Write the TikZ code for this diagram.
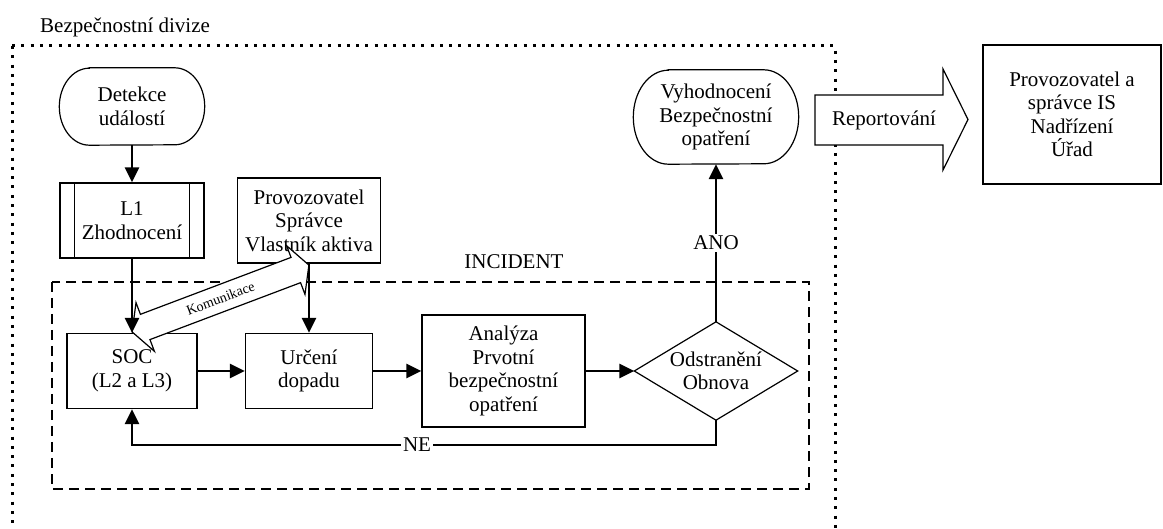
\documentclass[tikz,border=0pt]{standalone}
\usepackage{fontspec}
\setmainfont{Liberation Serif}
\usetikzlibrary{arrows.meta}
\begin{document}
\begin{tikzpicture}[x=1pt,y=-1pt,
  every node/.style={font=\fontsize{21}{23.5}\selectfont, align=center, inner sep=0pt},
  box/.style={draw, line width=1.2pt},
  outline/.style={line width=1.2pt},
  flow/.style={line width=2.6pt, -{Triangle[length=15pt,width=14pt]}},
  tag/.style={fill=white, inner sep=2pt},
]
\useasboundingbox (0,0) rectangle (1163,529);
\clip (0,0) rectangle (1163,529);

% security division frame (open towards the bottom)
\node[anchor=west] (divlabel) at (40,27) {Bezpečnostní divize};
\draw[line width=3pt, dash pattern=on 3pt off 6.3pt] (12,46) -- (12,545);
\draw[line width=3pt, dash pattern=on 3pt off 6.3pt] (12,46) -- (835,46) -- (835,545);

% incident frame
\draw[outline, dash pattern=on 10pt off 6pt] (52,282) rectangle (809,489);
\node (inclabel) at (514,262) {INCIDENT};

% nodes
\node[minimum width=145pt, minimum height=77pt] (det) at (132,106.5) {Detekce\\událostí};
\draw[outline] ([xshift=30pt]det.north west) -- ([xshift=-30pt]det.north east)
  arc[start angle=90, end angle=-90, x radius=30pt, y radius=38.5pt]
  -- ([xshift=30pt]det.south west)
  arc[start angle=270, end angle=90, x radius=30pt, y radius=38.5pt] -- cycle;

\node[box, minimum width=144pt, minimum height=75pt] (l1) at (132,220.5) {L1\\Zhodnocení};
\draw[outline] ([xshift=15pt]l1.north west) -- ([xshift=15pt]l1.south west);
\draw[outline] ([xshift=-15pt]l1.north east) -- ([xshift=-15pt]l1.south east);

\node[box, minimum width=143pt, minimum height=85pt] (prov) at (309,220.5) {Provozovatel\\Správce\\Vlastník aktiva};
\node[box, minimum width=130pt, minimum height=75pt] (soc) at (132,371) {SOC\\(L2 a L3)};
\node[box, minimum width=127pt, minimum height=75pt] (urc) at (309,371) {Určení\\dopadu};
\node[box, minimum width=163pt, minimum height=112pt] (ana) at (503.5,371) {Analýza\\Prvotní\\bezpečnostní\\opatření};

\node[minimum width=163pt, minimum height=98pt] (dia) at (716,371) {Odstranění\\Obnova};
\draw[outline] (dia.north) -- (dia.east) -- (dia.south) -- (dia.west) -- cycle;

\node[minimum width=165pt, minimum height=94pt] (vyh) at (716,117) {Vyhodnocení\\Bezpečnostní\\opatření};
\draw[outline] ([xshift=35pt]vyh.north west) -- ([xshift=-35pt]vyh.north east)
  arc[start angle=90, end angle=-90, x radius=35pt, y radius=47pt]
  -- ([xshift=35pt]vyh.south west)
  arc[start angle=270, end angle=90, x radius=35pt, y radius=47pt] -- cycle;

\node[box, minimum width=178pt, minimum height=139pt] (auth) at (1072,114.5) {Provozovatel a\\správce IS\\Nadřízení\\Úřad};

% reporting block arrow
\draw[outline, fill=white] (815,95) -- (943,95) -- (943,69) -- (968,119.5) -- (943,170)
  -- (943,145) -- (815,145) -- cycle;
\node (rep) at (884,120) {Reportování};

% communication double arrow
\begin{scope}[shift={(220.5,298.5)}, rotate=20.7]
  \draw[outline, fill=white] (94.5,0) -- (80.5,26) -- (80.5,13.5) -- (-80.5,13.5) -- (-80.5,26)
    -- (-94.5,0) -- (-80.5,-26) -- (-80.5,-13.5) -- (80.5,-13.5) -- (80.5,-26) -- cycle;
  \node[transform shape, font=\fontsize{14}{16}\selectfont] (kom) at (0,0) {Komunikace};
\end{scope}

% process flow
\draw[flow] (det.south) -- (l1.north);
\draw[flow] (l1.south) -- (soc.north);
\draw[flow] (prov.south) -- (urc.north);
\draw[flow] (soc.east) -- (urc.west);
\draw[flow] (urc.east) -- (ana.west);
\draw[flow] (ana.east) -- (dia.west);
\draw[flow] (dia.north) -- (vyh.south);
\node[tag] (ano) at (716,243) {ANO};
\coordinate (loop) at (716,445);
\draw[flow] (dia.south) -- (loop) -| (soc.south);
\node[tag] (ne) at (417,445) {NE};
\end{tikzpicture}
\end{document}
